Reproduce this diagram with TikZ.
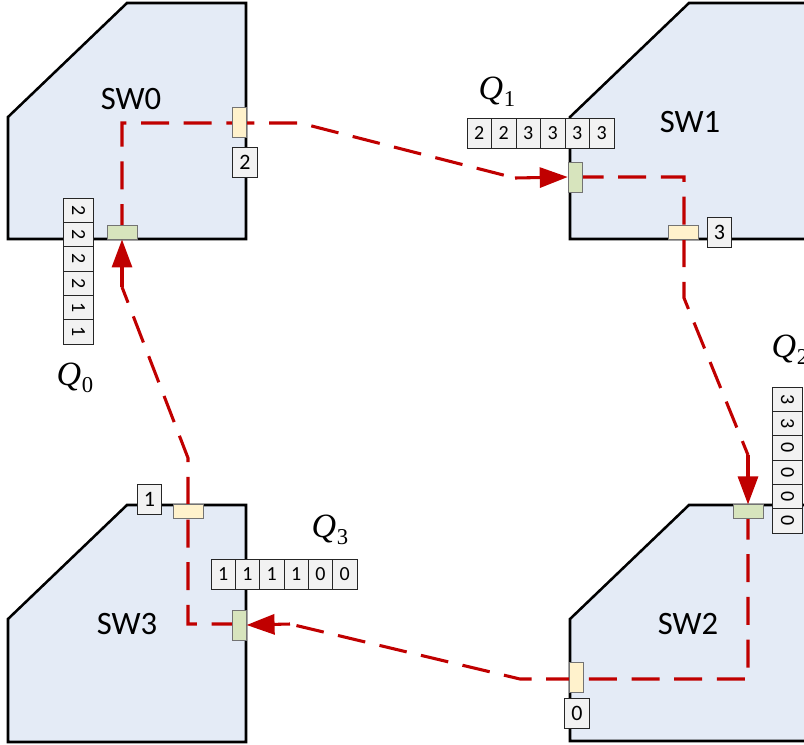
\documentclass[tikz,border=0pt]{standalone}
\usepackage{fontspec}
\setmainfont{Carlito}
\newfontfamily\tnr{Liberation Serif}
\usetikzlibrary{arrows.meta}
\definecolor{swfill}{RGB}{228,235,246}
\definecolor{pgreen}{RGB}{215,228,189}
\definecolor{pyellow}{RGB}{255,242,204}
\definecolor{cellfill}{RGB}{242,242,242}
\definecolor{pathred}{RGB}{192,0,0}
\newcommand\qlab[1]{{\tnr\itshape\fontsize{25.5}{30}\selectfont Q}\kern0.5pt\raisebox{-5pt}{\tnr\fontsize{17}{20}\selectfont #1}}
\tikzset{
  swbox/.style={draw=black, line width=1.9pt, fill=swfill, line join=miter},
  swlabel/.style={font=\fontsize{24.5}{28}\selectfont, inner sep=0pt},
  port/.style={draw=black!55, line width=0.6pt, inner sep=0pt, rectangle},
  gport/.style={port, fill=pgreen},
  yport/.style={port, fill=pyellow},
  cell/.style={draw=black!85, line width=0.6pt, fill=cellfill, minimum width=18.4pt, minimum height=22.5pt, inner sep=0pt, font=\fontsize{15}{17}\selectfont},
  vcell/.style={cell, rotate=-90, minimum width=18.25pt},
  hcell/.style={cell, minimum width=18.3pt},
  tagbox/.style={cell, minimum width=18.5pt, font=\fontsize{16.5}{18}\selectfont},
  flow/.style={draw=pathred, line width=2.3pt, dash pattern=on 21pt off 11pt},
  flowtip/.style={draw=pathred, line width=2.3pt, -{Triangle[length=21pt,width=15pt]}},
  qtext/.style={inner sep=0pt}
}
\begin{document}
\begin{tikzpicture}[x=0.75pt,y=-0.75pt]
\useasboundingbox (0,0) rectangle (804,744);
% switches
\draw[swbox] (8,239) -- (8,117) -- (127,3) -- (246,3) -- (246,239) -- cycle;
\draw[swbox] (570,239) -- (570,117) -- (689,3) -- (820,3) -- (820,239) -- cycle;
\draw[swbox] (570,741) -- (570,619) -- (689,505) -- (820,505) -- (820,741) -- cycle;
\draw[swbox] (8,742) -- (8,619) -- (127,505) -- (246,505) -- (246,742) -- cycle;
\node[swlabel] (sw0) at (131,99) {SW0};
\node[swlabel] (sw1) at (690,122) {SW1};
\node[swlabel] (sw2) at (688,624) {SW2};
\node[swlabel] (sw3) at (127,624) {SW3};
% port coordinates (nodes drawn later on top)
\coordinate (c0in) at (122,232);
\coordinate (c0out) at (239,123);
\coordinate (c1in) at (575.5,177);
\coordinate (c1out) at (684,232);
\coordinate (c2in) at (748,511.5);
\coordinate (c2out) at (576,679);
\coordinate (c3in) at (239.5,624);
\coordinate (c3out) at (188,511);
\coordinate (b1a) at (300,123);
\coordinate (b1b) at (515,178);
\coordinate (b2a) at (684,298);
\coordinate (b2b) at (748,455);
\coordinate (b3a) at (520,679);
\coordinate (b3b) at (290,624);
\coordinate (b4a) at (188,458);
\coordinate (b4b) at (122,287);
% flows
\draw[flow] (c0in) |- (c0out) -- (b1a) -- (b1b);
\draw[flow] (c1in) -| (c1out) -- (b2a) -- (b2b);
\draw[flow] (c2in) |- (c2out) -- (b3a) -- (b3b);
\draw[flow] (c3in) -| (c3out) -- (b4a) -- (b4b);
% ports
\node[gport, minimum width=22.5pt, minimum height=10.5pt] (p0in) at (c0in) {};
\node[yport, minimum width=10.5pt, minimum height=22.5pt] (p0out) at (239,122) {};
\node[gport, minimum width=11pt, minimum height=22.5pt] (p1in) at (c1in) {};
\node[yport, minimum width=22.5pt, minimum height=10.5pt] (p1out) at (683,232) {};
\node[gport, minimum width=22.5pt, minimum height=10pt] (p2in) at (c2in) {};
\node[yport, minimum width=10.5pt, minimum height=22.5pt] (p2out) at (576,677) {};
\node[gport, minimum width=10pt, minimum height=22.5pt] (p3in) at (239.5,625) {};
\node[yport, minimum width=22.5pt, minimum height=10.5pt] (p3out) at (c3out) {};
% arrow ends
\draw[flowtip] (b1b) -- (p1in.west);
\draw[flowtip] (b2b) -- (p2in.north);
\draw[flowtip] (b3b) -- (p3in.east);
\draw[flowtip] (b4b) -- (p0in.south);
% port tags
\node[tagbox] (t0) at (245,162) {2};
\node[tagbox] (t1) at (719.5,232) {3};
\node[tagbox] (t2) at (577,713.5) {0};
\node[tagbox] (t3) at (149.5,499.5) {1};
% Q0 (vertical)
\node[vcell] (q0a) at (78.5,210.2) {2};
\node[vcell] (q0b) at (78.5,234.5) {2};
\node[vcell] (q0c) at (78.5,258.8) {2};
\node[vcell] (q0d) at (78.5,283.2) {2};
\node[vcell] (q0e) at (78.5,307.5) {1};
\node[vcell] (q0f) at (78.5,331.8) {1};
% Q2 (vertical)
\node[vcell] (q2a) at (787.5,399.2) {3};
\node[vcell] (q2b) at (787.5,423.5) {3};
\node[vcell] (q2c) at (787.5,447.8) {0};
\node[vcell] (q2d) at (787.5,472.2) {0};
\node[vcell] (q2e) at (787.5,496.5) {0};
\node[vcell] (q2f) at (787.5,520.8) {0};
% Q1 (horizontal)
\node[hcell] (q1a) at (479.25,133.5) {2};
\node[hcell] (q1b) at (503.75,133.5) {2};
\node[hcell] (q1c) at (528.25,133.5) {3};
\node[hcell] (q1d) at (552.75,133.5) {3};
\node[hcell] (q1e) at (577.25,133.5) {3};
\node[hcell] (q1f) at (601.75,133.5) {3};
% Q3 (horizontal)
\node[hcell] (q3a) at (223.2,574) {1};
\node[hcell] (q3b) at (247.5,574) {1};
\node[hcell] (q3c) at (271.8,574) {1};
\node[hcell] (q3d) at (296.2,574) {1};
\node[hcell] (q3e) at (320.5,574) {0};
\node[hcell] (q3f) at (344.8,574) {0};
% queue labels
\node[qtext] (lq0) at (75,378) {\qlab{0}};
\node[qtext] (lq1) at (497,92) {\qlab{1}};
\node[qtext] (lq2) at (790,350) {\qlab{2}};
\node[qtext] (lq3) at (330,530) {\qlab{3}};
\end{tikzpicture}
\end{document}
